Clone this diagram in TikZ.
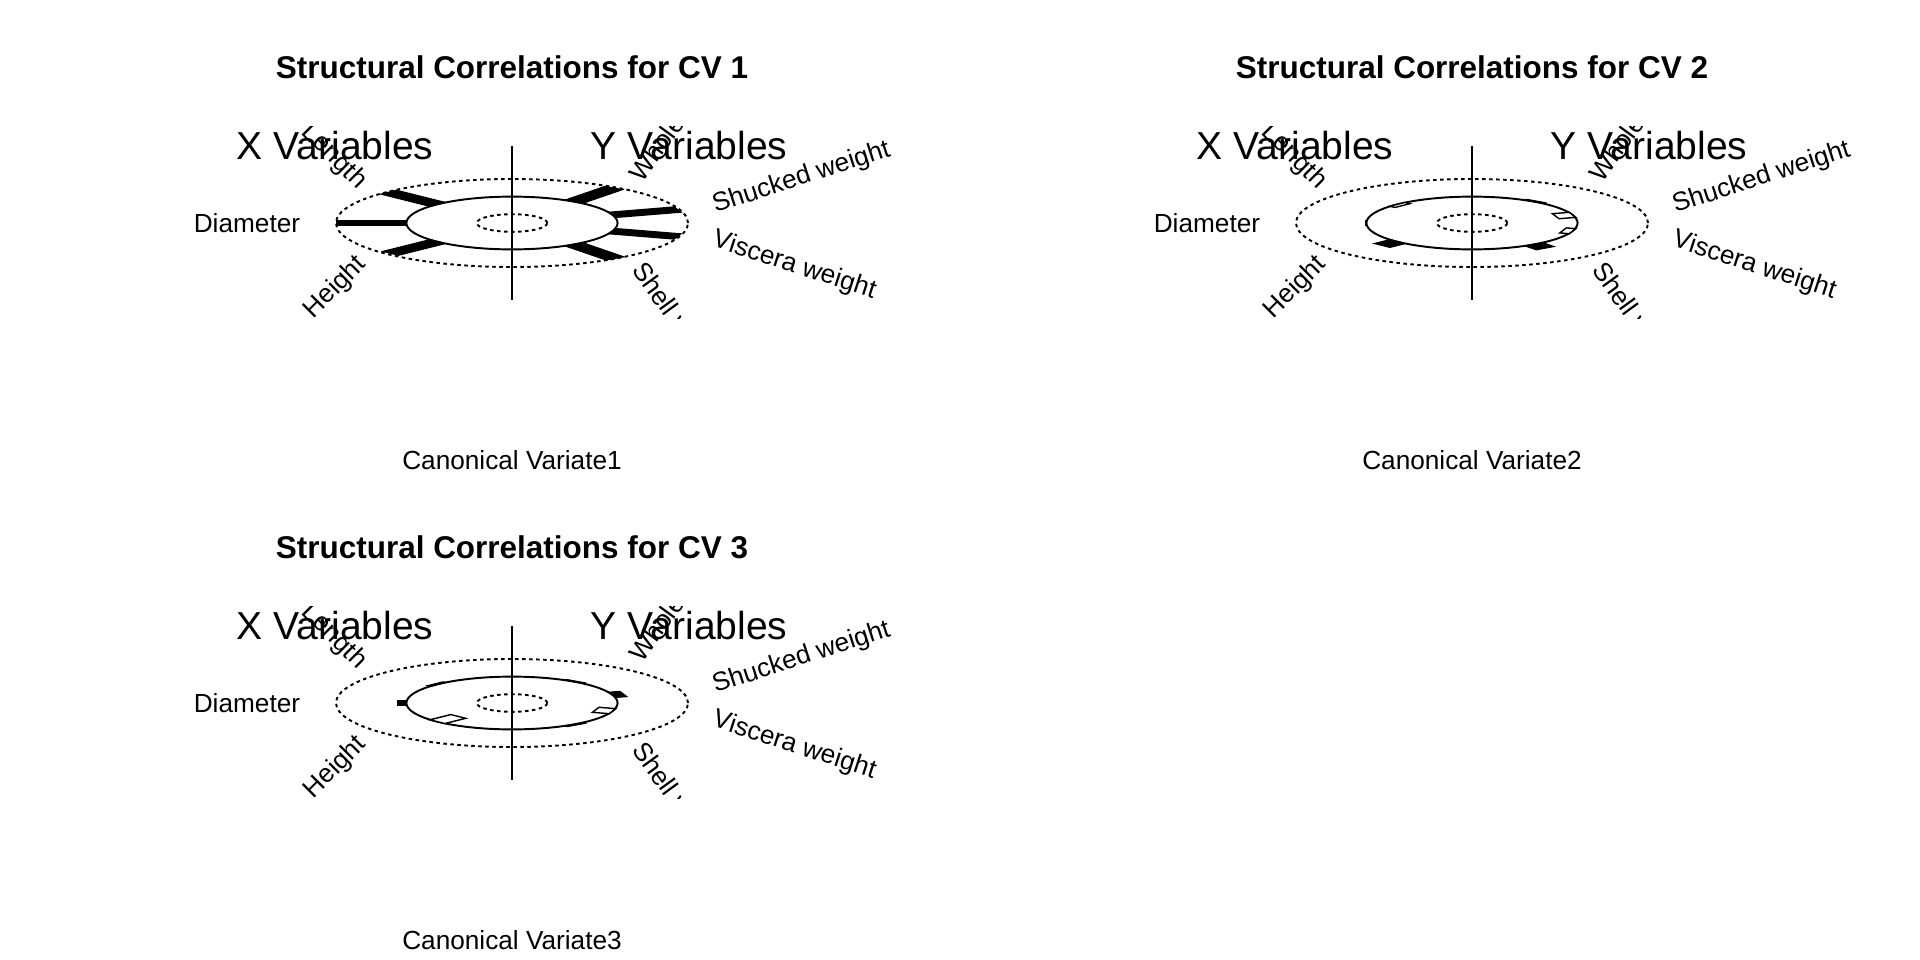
\documentclass[tikz,border=0pt]{standalone}
\usepackage{fontspec}
\setmainfont{Liberation Sans}
\usetikzlibrary{positioning}
\tikzset{plotline/.style={line width=0.55pt}}
\tikzset{dotline/.style={line width=0.55pt, dash pattern=on 0.035cm off 0.035cm}}
\tikzset{corrbar/.style={draw=black, line width=0.4pt}}
\tikzset{varlabel/.style={font=\fontsize{7.45}{9}\selectfont, inner sep=0pt}}
\tikzset{sidelabel/.style={font=\fontsize{11.1}{13}\selectfont, inner sep=0pt, anchor=base}}
\tikzset{cvtitle/.style={font=\fontsize{8.95}{11}\selectfont\bfseries, inner sep=0pt, anchor=base}}
\tikzset{cvcaption/.style={font=\fontsize{7.45}{9}\selectfont, inner sep=0pt, anchor=base}}

\begin{document}
\begin{tikzpicture}[x=0.01cm, y=0.01cm]
	\path[use as bounding box, fill=white] (0,0) rectangle (1920,-960);

	% one panel per canonical variate: centre, number, bars (angle/corr/fill)
	\foreach \px/\py/\n/\bars in {
		512/223/1/{135/0.97/black, 180/0.99/black, 225/0.93/black, 54/0.95/black, 18/0.97/black, -18/0.97/black, -54/0.98/black},
		1472/223/2/{135/-0.10/white, 180/0.01/black, 225/0.30/black, 54/0.04/black, 18/-0.25/white, -18/-0.14/white, -54/0.26/black},
		512/703/3/{135/0.04/black, 180/0.13/black, 225/-0.42/white, 54/0.03/black, 18/0.16/black, -18/-0.25/white, -54/0.04/black}} {
		\begin{scope}[shift={(\px,-\py)}]
			\node[cvtitle] (title\n) at (0,145) {Structural Correlations for CV \n};
			\node[cvcaption] (cap\n) at (0,-246) {Canonical Variate\n};

			\begin{scope}[xscale=176, yscale=44]
				\draw[dotline] (0,0) circle (1);
				\draw[plotline] (0,0) circle (0.6);
				\draw[dotline] (0,0) circle (0.2);

				\coordinate (top\n) at (0,1.76);
				\coordinate (bot\n) at (0,-1.76);
				\draw[plotline] (top\n) -- (bot\n);

				\foreach \a/\c/\f in \bars
					\filldraw[corrbar, fill=\f, rotate=\a] (0.6,-0.06) rectangle ({0.6+0.4*(\c)},0.06);

				\begin{scope}
					\clip (-2.5,-2.18) rectangle (3,2.2);
					\foreach \a/\t/\side/\r [count=\k] in {135/Length/east/-45, 180/Diameter/east/0, 225/Height/east/45,
							54/Whole weight/west/54, 18/Shucked weight/west/18, -18/Viscera weight/west/-18, -54/Shell weight/west/-54}
						\node[varlabel, anchor=\side, rotate=\r] (var\n-\k) at (\a:1.2) {\t};
				\end{scope}
			\end{scope}

			\node[sidelabel] (xvar\n) at (-177,64) {X Variables};
			\node[sidelabel] (yvar\n) at (177,64) {Y Variables};
		\end{scope}
	}
\end{tikzpicture}
\end{document}
